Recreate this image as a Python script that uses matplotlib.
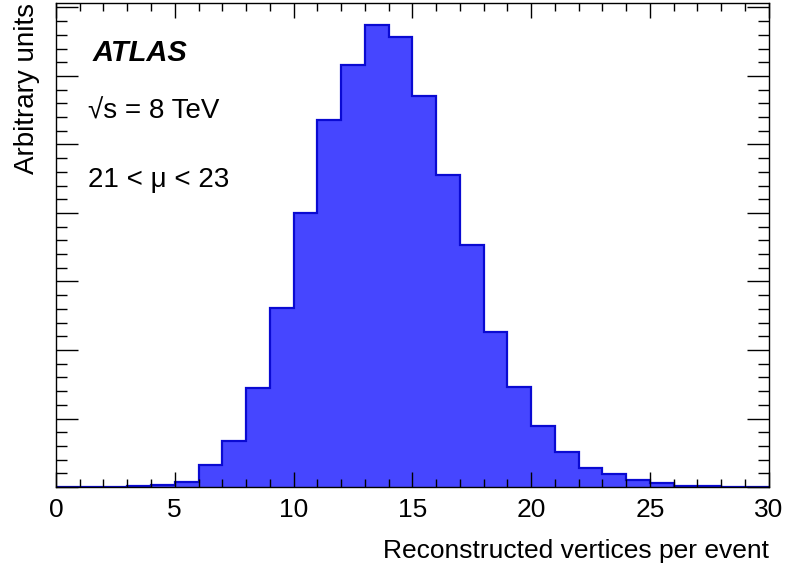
import numpy as np
import matplotlib.pyplot as plt
from matplotlib.ticker import MultipleLocator

# bin edges and contents (arbitrary units)
edges = np.arange(0, 31, 1)
counts = [0.0, 0.0, 0.00006, 0.00018, 0.00058, 0.00155, 0.00642, 0.01343,
          0.02882, 0.05218, 0.07991, 0.10715, 0.12321, 0.13489, 0.13139,
          0.11425, 0.09109, 0.07066, 0.04534, 0.02928, 0.01790, 0.01031,
          0.00555, 0.00371, 0.00204, 0.00108, 0.00044, 0.00018, 0.00009,
          0.00006]

plt.rcParams['font.family'] = ['Liberation Sans', 'DejaVu Sans']

fig = plt.figure(figsize=(7.86, 5.70), dpi=100)
ax = fig.add_axes([0.0712, 0.1456, 0.9068, 0.8491])

ax.stairs(counts, edges, fill=True, facecolor='#4646ff',
          edgecolor='#0a0ad2', linewidth=1.6)

ax.set_xlim(0, 30)
ax.set_ylim(0, 0.1413)

ax.xaxis.set_major_locator(MultipleLocator(5))
ax.xaxis.set_minor_locator(MultipleLocator(1))
ax.yaxis.set_major_locator(MultipleLocator(0.02))
ax.yaxis.set_minor_locator(MultipleLocator(0.004))
ax.tick_params(axis='both', which='both', direction='in', top=True, right=True,
               width=1.0, color='black')
ax.tick_params(axis='x', which='major', length=10.5, labelsize=19, pad=8)
ax.tick_params(axis='x', which='minor', length=5.5)
ax.tick_params(axis='y', which='major', length=15.5, labelleft=False)
ax.tick_params(axis='y', which='minor', length=8)
for s in ax.spines.values():
    s.set_linewidth(1.0)

ax.set_xlabel('Reconstructed vertices per event', loc='right', fontsize=19,
              labelpad=12)
ax.set_ylabel('Arbitrary units', loc='top', fontsize=20, labelpad=8)

ax.text(0.052, 0.897, 'ATLAS', transform=ax.transAxes, fontsize=21,
        fontweight='bold', fontstyle='italic', va='center')
ax.text(0.045, 0.775, '\u221As = 8 TeV', transform=ax.transAxes, fontsize=20,
        va='center')
ax.text(0.045, 0.634, '21 < \u03bc < 23', transform=ax.transAxes, fontsize=20,
        va='center')

fig.savefig('out.png', dpi=100)
